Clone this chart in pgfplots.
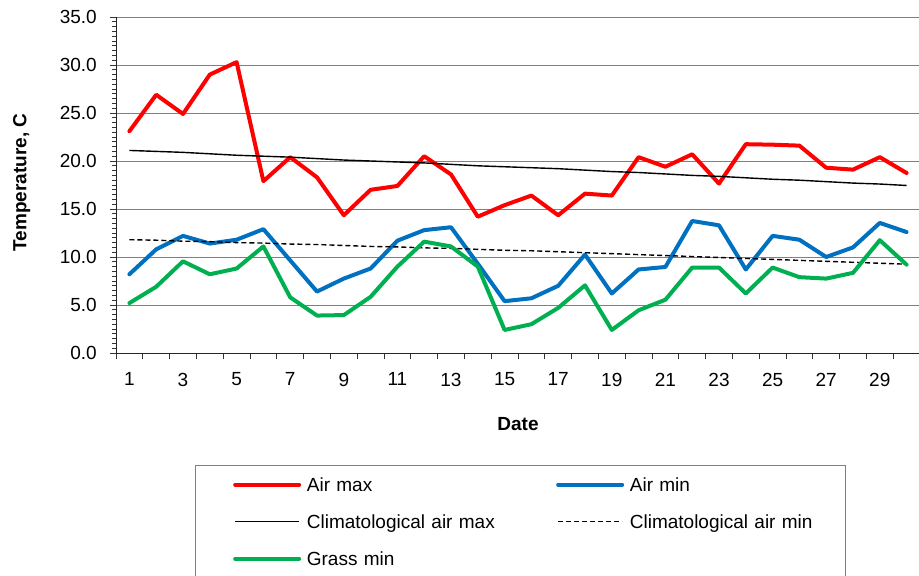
\documentclass[border=0pt]{standalone}
\usepackage{fontspec}
\setmainfont{Liberation Sans}
\usepackage{pgfplots}
\usepackage{pgfplotstable}
\pgfplotsset{compat=1.18}
\definecolor{airmax}{HTML}{FF0000}
\definecolor{airmin}{HTML}{0070C0}
\definecolor{grass}{HTML}{00B050}
\definecolor{gridgray}{HTML}{808080}

\pgfplotstableread{
day airmax airmin climmax climmin grass
1  23.1 8.2  21.1  11.8  5.2
2  26.9 10.8 21.0  11.75 6.9
3  24.9 12.2 20.9  11.65 9.55
4  29.0 11.4 20.75 11.6  8.2
5  30.3 11.8 20.6  11.5  8.8
6  17.9 12.9 20.5  11.45 11.1
7  20.4 9.65 20.4  11.35 5.8
8  18.3 6.4  20.25 11.3  3.9
9  14.35 7.75 20.1 11.2  3.95
10 17.0 8.8  20.0  11.1  5.85
11 17.4 11.7 19.9  11.05 9.0
12 20.5 12.8 19.8  10.95 11.6
13 18.6 13.1 19.65 10.9  11.1
14 14.2 9.3  19.5  10.8  9.0
15 15.4 5.4  19.4  10.7  2.4
16 16.4 5.7  19.3  10.65 3.0
17 14.35 7.0 19.2  10.55 4.7
18 16.6 10.25 19.05 10.45 7.05
19 16.4 6.2  18.9  10.35 2.4
20 20.4 8.7  18.8  10.25 4.45
21 19.4 8.96 18.65 10.15 5.55
22 20.7 13.75 18.5 10.05 8.9
23 17.65 13.3 18.4 9.95  8.9
24 21.75 8.7 18.25 9.85  6.2
25 21.7 12.2 18.1  9.75  8.9
26 21.6 11.8 18.0  9.65  7.9
27 19.3 10.0 17.85 9.55  7.75
28 19.1 11.0 17.7  9.45  8.35
29 20.4 13.55 17.6 9.35  11.75
30 18.75 12.6 17.45 9.25 9.2
}\data

\begin{document}
\begin{tikzpicture}
\useasboundingbox (0,0) rectangle (919pt,576pt);
\begin{axis}[
  at={(116pt,223pt)}, anchor=south west,
  width=804pt, height=336pt, scale only axis,
  xmin=0.5, xmax=30.5, ymin=0, ymax=35,
  axis lines=left,
  axis line style={-, black!85, line width=0.9pt},
  xtick={0.5,1.5,...,30.5}, xticklabels={},
  extra x ticks={1,3,5,7,9,11,13,15,17,19,21,23,25,27,29},
  extra x tick labels={1,3,5,7,9,11,13,15,17,19,21,23,25,27,29},
  extra x tick style={major tick length=0pt, grid=none,
     xticklabel style={inner ysep=0pt, yshift=-19.7pt}},
  ytick={0,5,...,35},
  minor y tick num=9,
  tick align=outside,
  major tick length=6pt, minor tick length=4pt,
  tick style={black!80, line width=0.8pt},
  ymajorgrids=true,
  major grid style={gridgray, line width=1pt},
  /pgf/number format/assume math mode=true,
  yticklabel={\pgfmathprintnumber[fixed,fixed zerofill,precision=1]{\tick}},
  yticklabel style={inner xsep=0pt, xshift=-13pt},
  every tick label/.append style={font=\fontsize{19pt}{22pt}\selectfont, text=black},
  xlabel={Date},
  xlabel style={at={(axis description cs:0.5,-0.2292)}, anchor=base, font=\fontsize{19pt}{22pt}\selectfont\bfseries},
  ylabel={Temperature, C},
  ylabel style={at={(axis description cs:-0.1116,0.5074)}, anchor=base, rotate=0, font=\fontsize{19pt}{22pt}\selectfont\bfseries},
  legend columns=2,
  legend style={draw=none, fill=none,
     at={(axis description cs:0.1455,-0.3711)}, anchor=north west,
     inner sep=0pt, row sep=23.4pt, column sep=0pt,
     font=\fontsize{19pt}{22pt}\selectfont,
     nodes={inner xsep=5.7pt, inner ysep=0pt, text height=13.6pt, text depth=0pt, text width=243.6pt, align=left},
     cells={anchor=west}},
  legend image code/.code={\draw[#1] (0pt,0pt) -- (64pt,0pt);},
  no marks,
]
\addplot[airmax, line width=4pt, line cap=round, line join=round] table[x=day, y=airmax] {\data};
\addlegendentry{Air max}
\addplot[airmin, line width=4pt, line cap=round, line join=round] table[x=day, y=airmin] {\data};
\addlegendentry{Air min}
\addplot[black, line width=1.4pt] table[x=day, y=climmax] {\data};
\addlegendentry{Climatological air max}
\addplot[black, line width=1.4pt, dash pattern=on 5pt off 3pt] table[x=day, y=climmin] {\data};
\addlegendentry{Climatological air min}
\addplot[grass, line width=4pt, line cap=round, line join=round] table[x=day, y=grass] {\data};
\addlegendentry{Grass min}
\end{axis}
\draw[gray, line width=0.9pt] (195.7pt,110.3pt) rectangle (845pt,-20pt);
\end{tikzpicture}
\end{document}
